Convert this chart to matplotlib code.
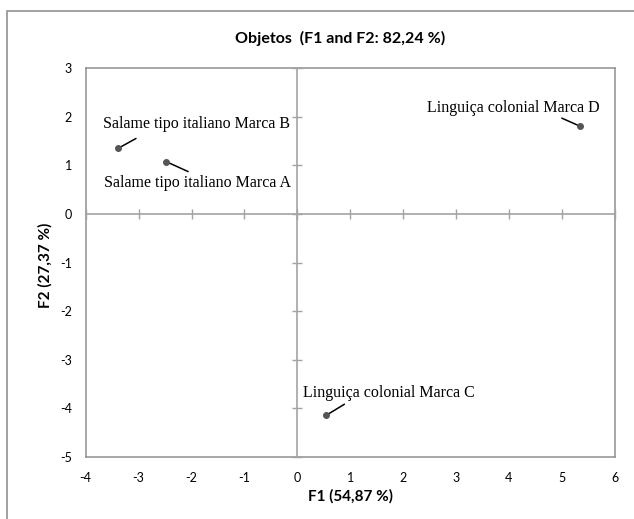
import matplotlib
matplotlib.use("Agg")
import matplotlib.pyplot as plt
from matplotlib.patches import Rectangle

plt.rcParams["axes.unicode_minus"] = False

# dados (coordenadas dos objetos no plano F1 x F2)
nomes = ["Salame tipo italiano Marca B", "Salame tipo italiano Marca A",
         "Linguiça colonial Marca D", "Linguiça colonial Marca C"]
f1 = [-3.39, -2.48, 5.34, 0.55]
f2 = [1.35, 1.08, 1.81, -4.14]
xticks = [-4, -3, -2, -1, 0, 1, 2, 3, 4, 5, 6]
yticks = [-5, -4, -3, -2, -1, 0, 1, 2, 3]

# posicao dos rotulos e das linhas guia (pixels relativos ao ponto)
txt_off = [(-15, 20), (-62, -25), (-153, 14), (-23, 18)]
lin_off = [(18, 10), (22, -10), (-18, 8), (18, 11)]

sans = ["Lato", "DejaVu Sans"]
serif = ["Liberation Serif", "DejaVu Serif"]
cinza = "#8f8f8f"

fig = plt.figure(figsize=(6.34, 5.19), dpi=100)
fig.add_artist(Rectangle((7 / 634, -0.5), 2, 1.5 - 10.5 / 519, transform=fig.transFigure,
                         fill=False, edgecolor="#9a9a9a", lw=1.3))

pos = [85.7 / 634, 62 / 519, 529 / 634, 388.7 / 519]
ax = fig.add_axes(pos)
ax.set_xlim(-4, 6)
ax.set_ylim(-5, 3)
ax.set_xticks(xticks)
ax.set_yticks(yticks)
for s in ax.spines.values():
    s.set_color(cinza)
    s.set_linewidth(1.1)
ax.tick_params(length=0, labelsize=9, colors="black")
ax.tick_params(axis="x", pad=11)
ax.tick_params(axis="y", pad=10)
for lb in ax.get_xticklabels() + ax.get_yticklabels():
    lb.set_family(sans)

# eixos em zero com marcas
ax0 = fig.add_axes(pos)
ax0.patch.set_visible(False)
ax0.set_xlim(-4, 6)
ax0.set_ylim(-5, 3)
ax0.set_xticks(xticks)
ax0.set_yticks(yticks)
for k in ["left", "bottom"]:
    ax0.spines[k].set_position(("data", 0))
    ax0.spines[k].set_color("#a3a3a3")
    ax0.spines[k].set_linewidth(1.2)
for k in ["right", "top"]:
    ax0.spines[k].set_visible(False)
ax0.tick_params(direction="inout", length=7, width=1, colors="#a3a3a3",
                labelbottom=False, labelleft=False)

ax0.scatter(f1, f2, s=16, color="#555555", zorder=5)
for i in range(len(nomes)):
    ax0.annotate(nomes[i], (f1[i], f2[i]), xytext=txt_off[i], textcoords="offset pixels",
                 ha="left", va="baseline", fontsize=11.5, family=serif)
    ax0.annotate("", (f1[i], f2[i]), xytext=lin_off[i], textcoords="offset pixels",
                 arrowprops=dict(arrowstyle="-", color="black", lw=1.1,
                                 shrinkA=0, shrinkB=0))

fig.text(340 / 634, 1 - 38 / 519, "Objetos  (F1 and F2: 82,24 %)", ha="center", va="center",
         fontsize=11.5, fontweight="bold", family=sans)
fig.text(350 / 634, 1 - 496 / 519, "F1 (54,87 %)", ha="center", va="center",
         fontsize=11, fontweight="bold", family=sans)
fig.text(45 / 634, 1 - 265 / 519, "F2 (27,37 %)", ha="center", va="center", rotation=90,
         fontsize=11, fontweight="bold", family=sans)

fig.savefig("out.png", dpi=100)
